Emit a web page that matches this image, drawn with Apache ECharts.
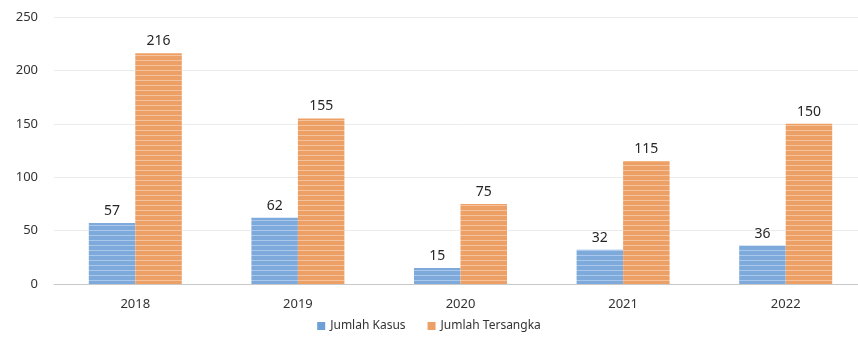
<!DOCTYPE html>
<html><head><meta charset="utf-8">
<script src="https://cdn.jsdelivr.net/npm/echarts@6/dist/echarts.min.js"></script>
<style>html,body{margin:0;padding:0;background:#fff}#c{width:858px;height:343px}</style>
</head><body><div id="c"></div>
<script>
const categories = ['2018','2019','2020','2021','2022'];
const kasus = [57, 62, 15, 32, 36];
const tersangka = [216, 155, 75, 115, 150];
const seriesNames = ['Jumlah Kasus', 'Jumlah Tersangka'];

function stripe(base, light){
  const c = document.createElement('canvas');
  c.width = 8; c.height = 5;
  const g = c.getContext('2d');
  g.fillStyle = base; g.fillRect(0,0,8,5);
  g.fillStyle = light; g.fillRect(0,0,8,1);
  return {image: c, repeat: 'repeat'};
}
const chart = echarts.init(document.getElementById('c'));
const font = 'Noto Sans';
const lbl = {show:true, position:'top', distance:5, color:'#262626', fontSize:14, fontFamily:font};
chart.setOption({
  animation:false,
  grid:{left:54, right:-9, top:17, bottom:59, containLabel:false, outerBoundsMode:'none'},
  legend:{bottom:6, left:'center', itemWidth:8, itemHeight:8, itemGap:22, icon:'rect',
    textStyle:{color:'#333333', fontSize:12, fontFamily:font},
    data:[{name:seriesNames[0], itemStyle:{color:'#6f9fd4'}},{name:seriesNames[1], itemStyle:{color:'#eda066'}}]},
  xAxis:{type:'category', data:categories,
    axisLine:{lineStyle:{color:'#c8c8c8'}}, axisTick:{show:false},
    axisLabel:{color:'#333333', fontSize:13, fontFamily:font, margin:14}},
  yAxis:{type:'value', min:0, max:250, interval:50,
    axisLine:{show:false}, axisTick:{show:false},
    splitLine:{lineStyle:{color:'#ebebeb'}},
    axisLabel:{color:'#333333', fontSize:13, fontFamily:font, margin:16}},
  series:[
    {name:seriesNames[0], type:'bar', data:kasus, barWidth:'28.6%', barGap:'0%',
      itemStyle:{color:stripe('#7eaadb','#a9c8ec')}, label:lbl},
    {name:seriesNames[1], type:'bar', data:tersangka, barWidth:'28.6%',
      itemStyle:{color:stripe('#eda066','#f6c29b')}, label:lbl}
  ]
});
</script></body></html>
